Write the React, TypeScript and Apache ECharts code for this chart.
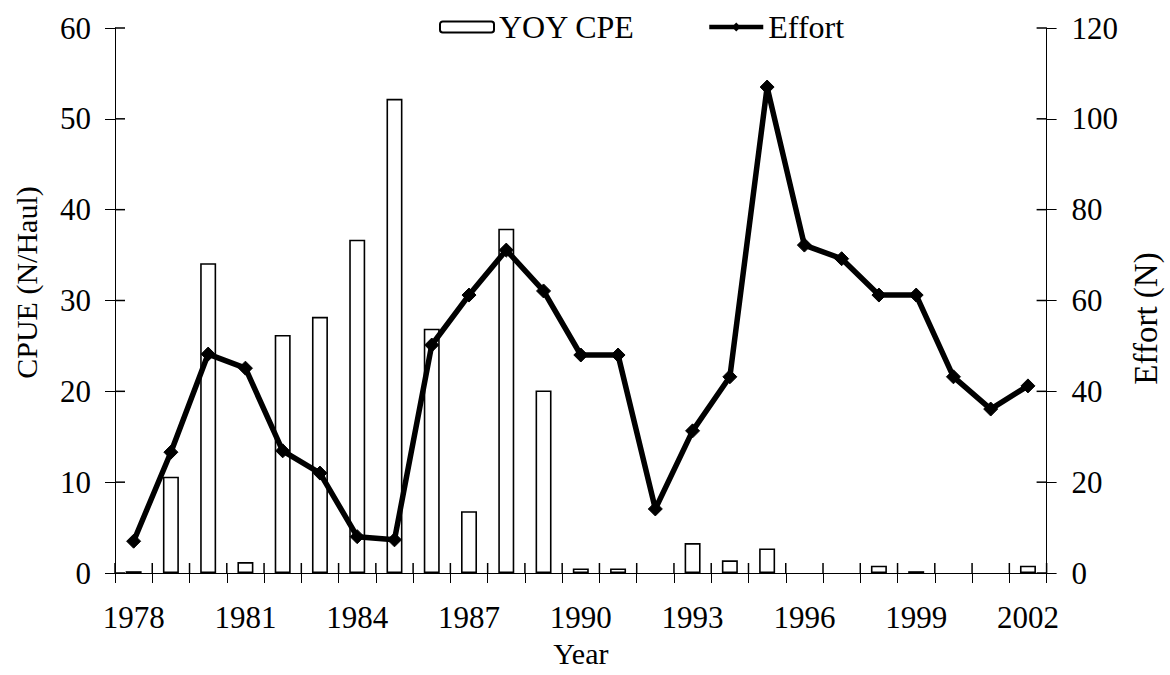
import React, { useEffect, useRef } from "react";
import * as echarts from "echarts";

const years = [
  "1978", "1979", "1980", "1981", "1982", "1983", "1984", "1985", "1986",
  "1987", "1988", "1989", "1990", "1991", "1992", "1993", "1994", "1995",
  "1996", "1997", "1998", "1999", "2000", "2001", "2002",
];

const yoyCpe = [
  0.2, 10.6, 34.1, 1.2, 26.2, 28.2, 36.7, 52.2, 26.9, 6.8, 37.9, 20.1, 0.5,
  0.5, 0, 3.3, 1.4, 2.7, 0, 0, 0.8, 0.2, 0, 0, 0.8,
];

const effort = [
  7.0, 26.6, 48.2, 45.1, 26.9, 22.0, 8.0, 7.3, 50.2, 61.2, 71.1, 62.1, 48.0,
  48.0, 14.1, 31.3, 43.2, 107.0, 72.2, 69.2, 61.2, 61.2, 43.2, 36.1, 41.2,
];

const leftTicks = [0, 10, 20, 30, 40, 50, 60];
const rightTicks = [0, 20, 40, 60, 80, 100, 120];

const FONT = "'Liberation Serif', 'Times New Roman', serif";

export default function App() {
  const ref = useRef<HTMLDivElement>(null);

  useEffect(() => {
    if (!ref.current) return;
    const chart = echarts.init(ref.current, null, { renderer: "svg" });
    const lineStyle = { color: "#000", width: 1 };
    const labelStyle = { color: "#000", fontSize: 31, fontFamily: FONT };
    const nameStyle = { color: "#000", fontSize: 30, fontFamily: FONT };

    chart.setOption({
      animation: false,
      backgroundColor: "#fff",
      textStyle: { fontFamily: FONT },
      grid: { left: 115, right: 122, top: 28, bottom: 102, containLabel: false },
      legend: {
        left: 434,
        top: 6,
        itemWidth: 54,
        itemHeight: 11,
        itemGap: 72,
        textStyle: { color: "#000", fontSize: 32, fontFamily: FONT },
        data: [
          { name: "YOY CPE" },
          { name: "Effort", lineStyle: { width: 4.5, color: "#000" } },
        ],
      },
      xAxis: {
        type: "category",
        data: years,
        boundaryGap: true,
        position: "bottom",
        axisLine: { show: true, onZero: false, lineStyle },
        axisTick: { show: true, interval: 0, length: 10, lineStyle },
        axisLabel: { ...labelStyle, interval: 2, margin: 29 },
        splitLine: { show: false },
        name: "Year",
        nameLocation: "middle",
        nameGap: 65,
        nameTextStyle: nameStyle,
      },
      yAxis: [
        {
          type: "value",
          position: "left",
          min: 0,
          max: 60,
          interval: 10,
          axisLine: { show: true, onZero: false, lineStyle },
          axisTick: { show: true, length: 10, lineStyle },
          axisLabel: { ...labelStyle, margin: 24 },
          splitLine: { show: false },
          name: "CPUE (N/Haul)",
          nameLocation: "middle",
          nameRotate: 90,
          nameGap: 74,
          nameTextStyle: { ...nameStyle, padding: [0, 0, 0, 36] },
        },
        {
          type: "value",
          position: "right",
          min: 0,
          max: 120,
          interval: 20,
          axisLine: { show: true, onZero: false, lineStyle },
          axisTick: { show: true, length: 10, lineStyle },
          axisLabel: { ...labelStyle, margin: 25 },
          splitLine: { show: false },
          name: "Effort (N)",
          nameLocation: "middle",
          nameRotate: 90,
          nameGap: 66,
          nameTextStyle: { ...nameStyle, fontSize: 33, padding: [0, 36, 0, 0] },
        },
      ],
      series: [
        {
          name: "YOY CPE",
          type: "bar",
          yAxisIndex: 0,
          data: yoyCpe.map((v) => (v === 0 ? null : v)),
          barWidth: 16,
          itemStyle: { color: "#fff", borderColor: "#000", borderWidth: 1.6 },
        },
        {
          name: "Effort",
          type: "line",
          yAxisIndex: 1,
          data: effort,
          symbol: "diamond",
          symbolSize: 14,
          showSymbol: true,
          lineStyle: { color: "#000", width: 5.5 },
          itemStyle: { color: "#000", borderColor: "#000" },
          z: 5,
        },
      ],
    });

    // inner halves of the crossing ticks, positioned through the chart's own scales
    const x0 = chart.convertToPixel({ xAxisIndex: 0 }, 0) as number;
    const x1 = chart.convertToPixel({ xAxisIndex: 0 }, 1) as number;
    const band = x1 - x0;
    const leftX = x0 - band / 2;
    const rightX = leftX + band * years.length;
    const baseY = chart.convertToPixel({ yAxisIndex: 0 }, 0) as number;
    const tickLen = 10;
    const els: any[] = [];
    const seg = (ax: number, ay: number, bx: number, by: number) => ({
      type: "line",
      shape: { x1: ax, y1: ay, x2: bx, y2: by },
      style: { stroke: "#000", lineWidth: 1.5 },
      z: 10,
      silent: true,
    });
    leftTicks.forEach((v) => {
      const y = chart.convertToPixel({ yAxisIndex: 0 }, v) as number;
      els.push(seg(leftX, y, leftX + tickLen, y));
    });
    rightTicks.forEach((v) => {
      const y = chart.convertToPixel({ yAxisIndex: 1 }, v) as number;
      els.push(seg(rightX - tickLen, y, rightX, y));
    });
    for (let i = 0; i <= years.length; i++) {
      const x = leftX + band * i;
      els.push(seg(x, baseY - tickLen, x, baseY));
    }
    chart.setOption({ graphic: els });

    return () => chart.dispose();
  }, []);

  return (
    <div
      ref={ref}
      style={{ position: "fixed", left: 0, top: 0, width: 1170, height: 675, background: "#fff" }}
    />
  );
}
